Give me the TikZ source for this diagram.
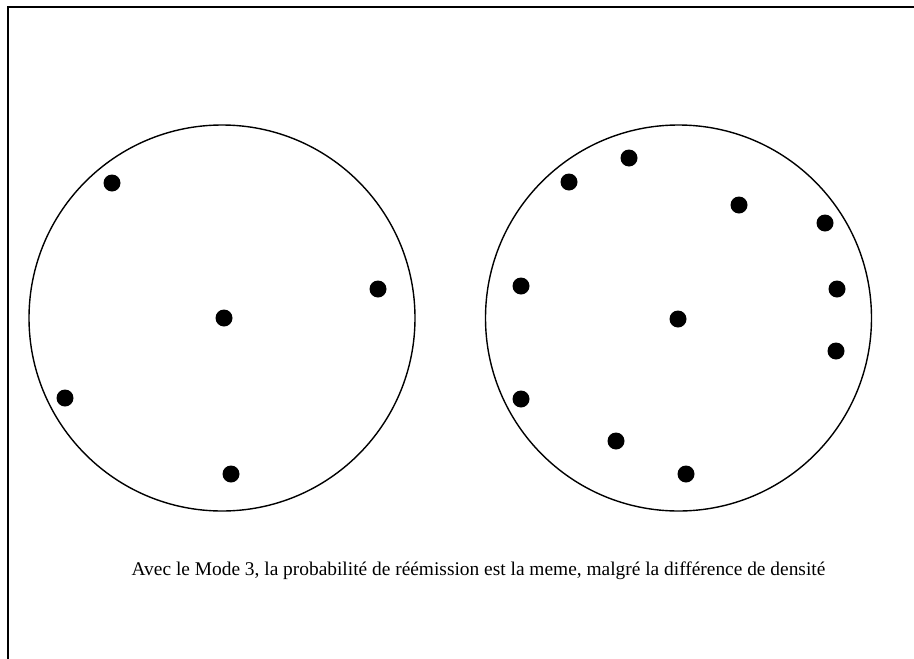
\documentclass[tikz,border=0pt]{standalone}
\usepackage{fontspec}
\setmainfont{Liberation Serif}
\begin{document}
\begin{tikzpicture}[x=1pt,y=-1pt,
  disc/.style={circle,draw=black,line width=1.4pt,minimum size=386pt,inner sep=0pt},
  dot/.style={circle,fill=black,minimum size=17pt,inner sep=0pt},
  frameline/.style={line width=1.6pt,line cap=rect}]
\useasboundingbox (0,0) rectangle (914,659);
\coordinate (tl) at (8,7);
\coordinate (tr) at (914,7);
\coordinate (bl) at (8,659);
\draw[frameline] (bl) -- (tl) -- (tr);
\node[disc] (c1) at (222,318) {};
\node[disc] (c2) at (678.5,318) {};
% left dots
\node[dot] (a1) at (112,183) {};
\node[dot] (a2) at (378,289) {};
\node[dot] (a3) at (224,318) {};
\node[dot] (a4) at (65,398) {};
\node[dot] (a5) at (231,474) {};
% right dots
\node[dot] (b1) at (629,158) {};
\node[dot] (b2) at (569,182) {};
\node[dot] (b3) at (739,205) {};
\node[dot] (b4) at (825,223) {};
\node[dot] (b5) at (521,286) {};
\node[dot] (b6) at (837,289) {};
\node[dot] (b7) at (678,319) {};
\node[dot] (b8) at (836,351) {};
\node[dot] (b9) at (521,399) {};
\node[dot] (b10) at (616,441) {};
\node[dot] (b11) at (686,474) {};
\node[font=\fontsize{19.4}{22}\selectfont,inner sep=0pt] (cap) at (478.5,571)
  {Avec le Mode 3, la probabilité de réémission est la meme, malgré la différence de densité};
\end{tikzpicture}
\end{document}
